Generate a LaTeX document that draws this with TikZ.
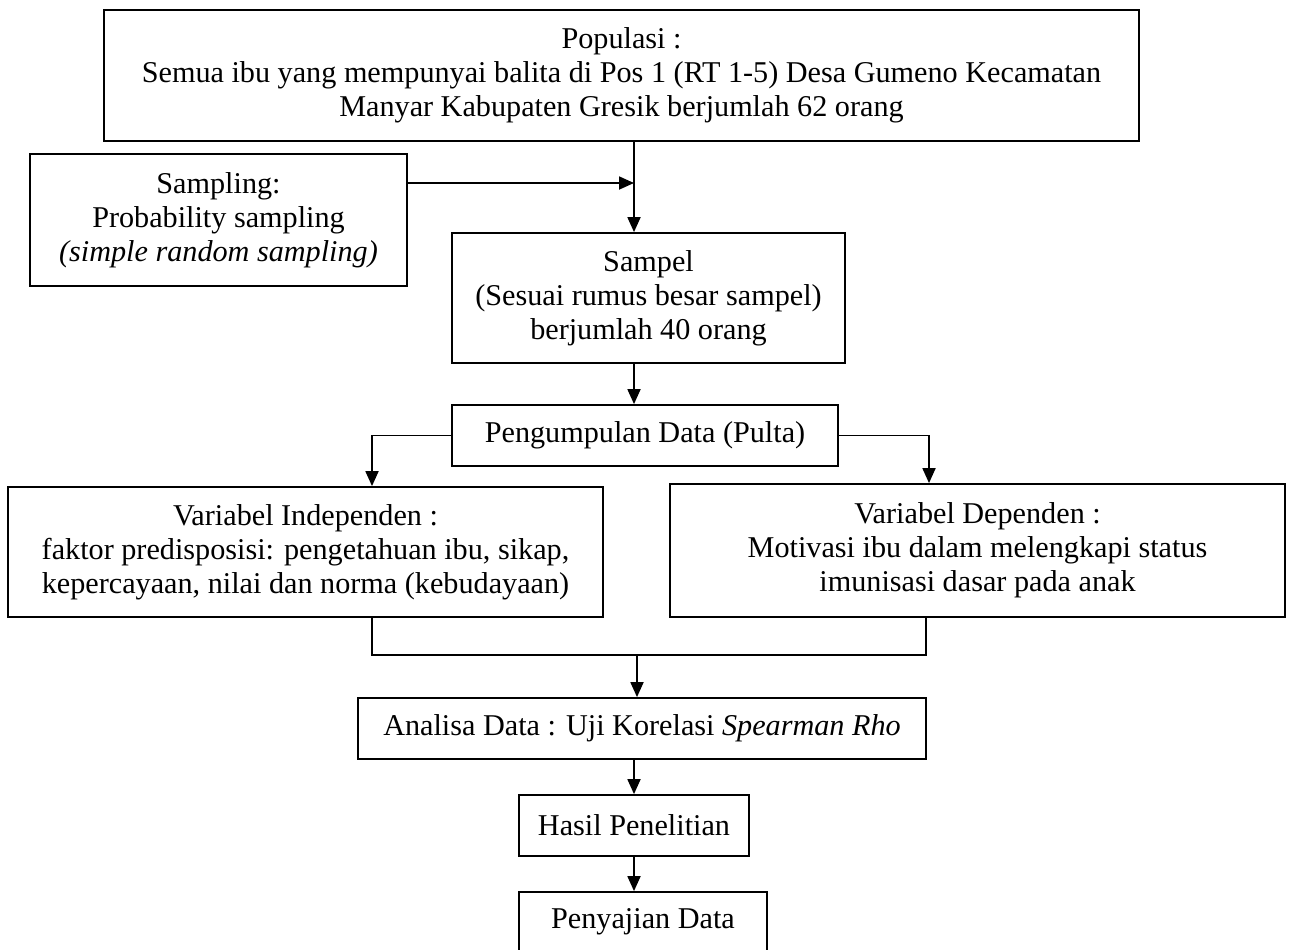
\documentclass[tikz,border=0pt]{standalone}
\usepackage{fontspec}
\setmainfont{Liberation Serif}
\usetikzlibrary{arrows.meta,calc}

\begin{document}
\begin{tikzpicture}[
    x=0.5pt, y=-0.5pt,
    every node/.style={font=\fontsize{15.1}{17}\selectfont},
    box/.style={draw, line width=0.9pt, align=center, inner sep=0pt},
    link/.style={line width=0.9pt},
    arr/.style={link, -{Triangle[length=7.5pt,width=6.5pt]}}
  ]
  \useasboundingbox (0,0) rectangle (1289,949);

  % boxes (centre, width, height in px)
  \node[box, minimum width=1035*0.5pt, minimum height=131*0.5pt] (pop) at (621.5,75.5)
    {Populasi :\\Semua ibu yang mempunyai balita di Pos 1 (RT 1-5) Desa Gumeno Kecamatan\\Manyar Kabupaten Gresik berjumlah 62 orang};
  \node[box, minimum width=377*0.5pt, minimum height=132*0.5pt] (samp) at (218.5,220)
    {Sampling:\\Probability sampling\\\textit{(simple random sampling)}};
  \node[box, minimum width=393*0.5pt, minimum height=130*0.5pt] (sampel) at (648.5,298)
    {Sampel\\(Sesuai rumus besar sampel)\\berjumlah 40 orang};
  \node[box, minimum width=386*0.5pt, minimum height=61*0.5pt] (pulta) at (645,435.5)
    {Pengumpulan Data (Pulta)};
  \node[box, minimum width=595*0.5pt, minimum height=130*0.5pt] (indep) at (305.5,552)
    {Variabel Independen :\\faktor predisposisi: pengetahuan ibu, sikap,\\kepercayaan, nilai dan norma (kebudayaan)};
  \node[box, minimum width=615*0.5pt, minimum height=133*0.5pt] (dep) at (977.5,550.5)
    {Variabel Dependen :\\Motivasi ibu dalam melengkapi status\\imunisasi dasar pada anak};
  \node[box, minimum width=568*0.5pt, minimum height=61*0.5pt] (analisa) at (642,728.5)
    {Analisa Data : Uji Korelasi \textit{Spearman Rho}};
  \node[box, minimum width=230*0.5pt, minimum height=61*0.5pt] (hasil) at (634,825.5)
    {Hasil Penelitian};
  % last box runs off the bottom edge of the page
  \node[box, minimum width=248*0.5pt, minimum height=74*0.5pt,
        text height=10pt, text depth=11pt] (saji) at (643,929)
    {Penyajian Data};

  % guide columns and junctions
  \coordinate (c) at (634,0);
  \coordinate (m) at (634,183);
  \coordinate (L) at (372,0);
  \coordinate (R) at (929,0);
  \coordinate (R2) at (926,0);
  \coordinate (j) at (637,655);

  % connectors
  \draw[arr] (pop.south -| c) -- (sampel.north -| c);
  \draw[arr] (samp.east |- m) -- (m);
  \draw[arr] (sampel.south -| c) -- (pulta.north -| c);
  \draw[arr] (pulta.west) -| (indep.north -| L);
  \draw[arr] (pulta.east) -| (dep.north -| R);
  \draw[link] (indep.south -| L) |- (j);
  \draw[link] (dep.south -| R2) |- (j);
  \draw[arr] (j) -- (analisa.north -| j);
  \draw[arr] (analisa.south -| hasil.south) -- (hasil.north);
  \draw[arr] (hasil.south) -- (saji.north -| hasil.south);
\end{tikzpicture}
\end{document}
